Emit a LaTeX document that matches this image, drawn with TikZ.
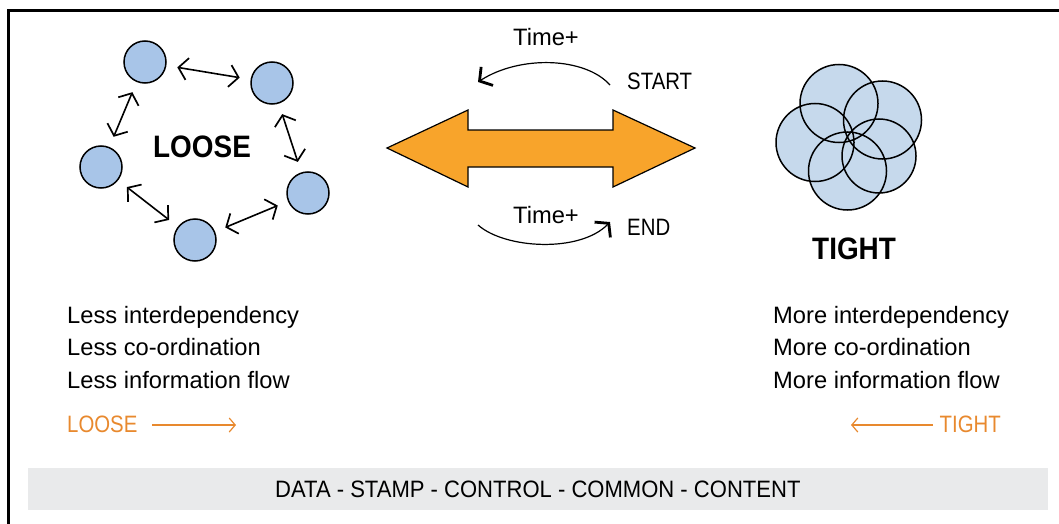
\documentclass[tikz,border=0pt]{standalone}
\usepackage{fontspec}
\setmainfont{Liberation Sans}
\usetikzlibrary{arrows.meta}
\definecolor{loosecol}{HTML}{A8C5E8}
\definecolor{tightcol}{HTML}{C6D9EC}
\definecolor{orangetxt}{HTML}{E8892E}
\definecolor{bigarrow}{HTML}{F8A42B}
\definecolor{bandcol}{HTML}{E9EAEB}
\newcommand{\capsq}[1]{\scalebox{0.86}[1]{#1}}
\newcommand{\boldsq}[1]{\scalebox{0.9}[1]{#1}}
\begin{document}
\begin{tikzpicture}[x=1pt,y=-1pt,
  loosec/.style={circle,draw,fill=loosecol,minimum size=42pt,inner sep=0pt,line width=1.5pt},
  dbl/.style={{Straight Barb[length=9pt,width=22pt,line width=1.7pt]}-{Straight Barb[length=9pt,width=22pt,line width=1.7pt]},line width=1.6pt,shorten <=11pt,shorten >=11pt},
  timearc/.style={-{Straight Barb[length=9pt,width=22pt,line width=2.8pt]},line width=1.2pt},
  orarrow/.style={-{Straight Barb[length=6pt,width=14pt,line width=1.2pt]},line width=1.2pt,draw=orangetxt},
  body/.style={anchor=base west,inner sep=0pt,font=\fontsize{23.7}{28}\selectfont},
  ortxt/.style={body,text=orangetxt},
  bigbold/.style={anchor=base west,inner sep=0pt,font=\fontsize{31}{36}\selectfont\bfseries},
  tcirc/.style={line width=1.5pt}
]
\useasboundingbox (0,0) rectangle (1059,524);
% frame
\draw[line width=3pt] (8.5,524) -- (8.5,10.5) -- (1059,10.5);
% loose cluster
\node[loosec] (c1) at (145,62) {};
\node[loosec] (c2) at (272,83) {};
\node[loosec] (c3) at (101,167) {};
\node[loosec] (c4) at (308,193) {};
\node[loosec] (c5) at (195,240) {};
\draw[dbl] (c1) -- (c2);
\draw[dbl] (c2) -- (c4);
\draw[dbl] (c1) -- (c3);
\draw[dbl] (c3) -- (c5);
\draw[dbl] (c5) -- (c4);
\node[bigbold] (loosebig) at (153,157) {\boldsq{LOOSE}};
% big double arrow
\draw[fill=bigarrow,line width=1.2pt,line join=miter]
  (387,148) -- (468,110) -- (468,130) -- (613,130) -- (613,110) -- (695,148)
  -- (613,187) -- (613,167) -- (468,167) -- (468,187) -- cycle;
% time arcs
\node[body] (time1) at (513,46) {Time+};
\node[body] (start) at (627,90) {\capsq{START}};
\coordinate (ts) at (610,85);
\coordinate (te) at (478,82);
\draw[timearc] (ts) .. controls (585,57) and (520,55) .. (te);
\node[body] (time2) at (513,223) {Time+};
\node[body] (endn) at (627,235) {\capsq{END}};
\coordinate (bs) at (478,225);
\coordinate (be) at (610,222);
\draw[timearc] (bs) .. controls (505,249) and (580,253) .. (be);
% tight cluster
\foreach \p/\r in {{(839,103.5)}/39,{(882.5,120)}/39,{(815,142.5)}/39,{(879,156)}/37,{(847.5,171)}/39}
  \fill[tightcol] \p circle (\r);
\foreach \p/\r in {{(839,103.5)}/39,{(882.5,120)}/39,{(815,142.5)}/39,{(879,156)}/37,{(847.5,171)}/39}
  \draw[tcirc] \p circle (\r);
\node[bigbold] (tightbig) at (812,259) {\boldsq{TIGHT}};
% left texts
\node[body] (l1) at (67,323) {Less interdependency};
\node[body] (l2) at (67,355.5) {Less co-ordination};
\node[body] (l3) at (67,388) {Less information flow};
\node[ortxt] (lo) at (67,432) {\capsq{LOOSE}};
\coordinate (loa) at (152,425);
\coordinate (lob) at (236,425);
\draw[orarrow] (loa) -- (lob);
% right texts
\node[body] (r1) at (773,323) {More interdependency};
\node[body] (r2) at (773,355.5) {More co-ordination};
\node[body] (r3) at (773,388) {More information flow};
\node[ortxt,anchor=base east] (ti) at (1001,432) {\capsq{TIGHT}};
\coordinate (tia) at (933,425);
\coordinate (tib) at (851,425);
\draw[orarrow] (tia) -- (tib);
% band
\fill[bandcol] (28,468) rectangle (1048,510);
\node[body] (band) at (275,497) {\scalebox{0.93}[1]{DATA - STAMP - CONTROL - COMMON - CONTENT}};
\end{tikzpicture}
\end{document}
